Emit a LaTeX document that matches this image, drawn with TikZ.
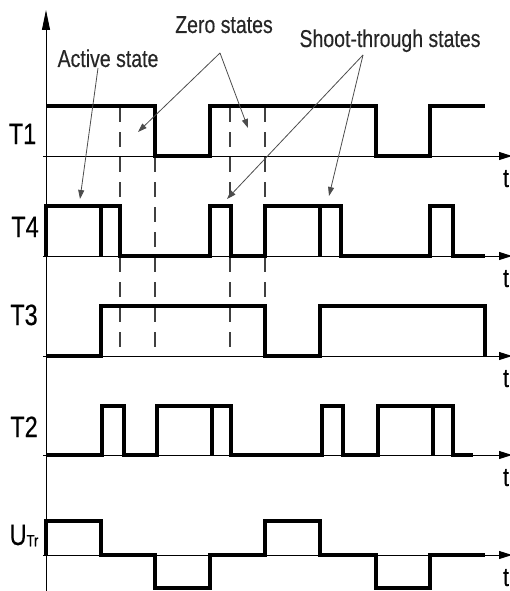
\documentclass[tikz,border=0pt]{standalone}
\usepackage{fontspec}
\usepackage{graphicx}
\setmainfont[FakeBold=0.4]{Liberation Sans}
\usetikzlibrary{arrows.meta}
% tall, narrow lettering used for every label
\newcommand\tallText[2]{\scalebox{1}[1.25]{\fontsize{#1}{#1}\selectfont #2}}
\begin{document}
\begin{tikzpicture}[x=1pt,y=-1pt,
  wave/.style={line width=3.5pt, line join=miter},
  axisline/.style={line width=0.9pt, -{Triangle[length=13pt,width=8pt]}},
  guide/.style={line width=1.3pt, black!75, dash pattern=on 15pt off 10pt},
  pointer/.style={line width=0.8pt, black!70, -{Triangle[length=9pt,width=6pt]}},
  sig/.style={anchor=base, inner sep=0pt},
  note/.style={anchor=base, inner sep=0pt, black!85}]
\useasboundingbox (0,0) rectangle (510,591);

% time axes with their labels
\foreach \y/\n in {156/t1,256/t4,356/t3,455/t2,555/tu}{
  \draw[axisline] (43,\y) -- (512,\y);
  \node[sig] (\n) at (506,\y+31) {\tallText{21}{t}};
}
% common vertical axis
\draw[line width=0.9pt, -{Triangle[length=20pt,width=8pt]}] (46,591) -- (46,10);

% signal names
\node[sig] (lT1) at (22.5,144) {\tallText{23.5}{T1}};
\node[sig] (lT4) at (25,237) {\tallText{23.5}{T4}};
\node[sig] (lT3) at (24,325) {\tallText{23.5}{T3}};
\node[sig] (lT2) at (24,437) {\tallText{23.5}{T2}};
\node[sig] (lU) at (24,545) {\tallText{23.5}{U\raisebox{-1pt}{\fontsize{13}{13}\selectfont Tr}}};

% dashed reference instants
\foreach \x in {120,155,230,265}
  \draw[guide] (\x,107) -- (\x,356);

% T1
\draw[wave] (46,106) -- (155,106) -- (155,156) -- (210,156) -- (210,106)
  -- (376,106) -- (376,156) -- (430,156) -- (430,106) -- (485,106);
% T4
\draw[wave] (46,256) -- (46,206) -- (120,206) -- (120,256) -- (210,256)
  -- (210,206) -- (231,206) -- (231,256) -- (265,256) -- (265,206)
  -- (341,206) -- (341,256) -- (430,256) -- (430,206) -- (453,206)
  -- (453,256) -- (485,256);
\draw[wave] (101,256) -- (101,206);
\draw[wave] (320,256) -- (320,206);
% T3
\draw[wave] (46,356) -- (101,356) -- (101,306) -- (265,306) -- (265,356)
  -- (320,356) -- (320,306) -- (485,306) -- (485,356);
% T2
\draw[wave] (46,455) -- (102,455) -- (102,406) -- (124,406) -- (124,455)
  -- (157,455) -- (157,406) -- (231,406) -- (231,455) -- (322,455)
  -- (322,406) -- (343,406) -- (343,455) -- (378,455) -- (378,406)
  -- (453,406) -- (453,455) -- (473,455);
\draw[wave] (212,455) -- (212,406);
\draw[wave] (433,455) -- (433,406);
% transformer voltage
\draw[wave] (46,555) -- (46,521) -- (101,521) -- (101,555) -- (155,555)
  -- (155,588) -- (210,588) -- (210,555) -- (265,555) -- (265,521)
  -- (320,521) -- (320,555) -- (376,555) -- (376,588) -- (430,588)
  -- (430,555) -- (485,555);

% annotations
\node[note] (act) at (108,67) {\tallText{19.5}{Active state}};
\node[note] (zero) at (224,33) {\tallText{19.5}{Zero states}};
\node[note] (shoot) at (390,47) {\tallText{19.5}{Shoot-through states}};

\coordinate (actFrom) at (98,68);
\coordinate (actTo) at (80,199);
\coordinate (zeroFrom) at (220,53);
\coordinate (zeroA) at (138,132);
\coordinate (zeroB) at (248,128);
\coordinate (shootFrom) at (363,55);
\coordinate (shootA) at (227,199);
\coordinate (shootB) at (329,196);

\draw[pointer] (actFrom) -- (actTo);
\draw[pointer] (zeroFrom) -- (zeroA);
\draw[pointer] (zeroFrom) -- (zeroB);
\draw[pointer] (shootFrom) -- (shootA);
\draw[pointer] (shootFrom) -- (shootB);
\end{tikzpicture}
\end{document}
